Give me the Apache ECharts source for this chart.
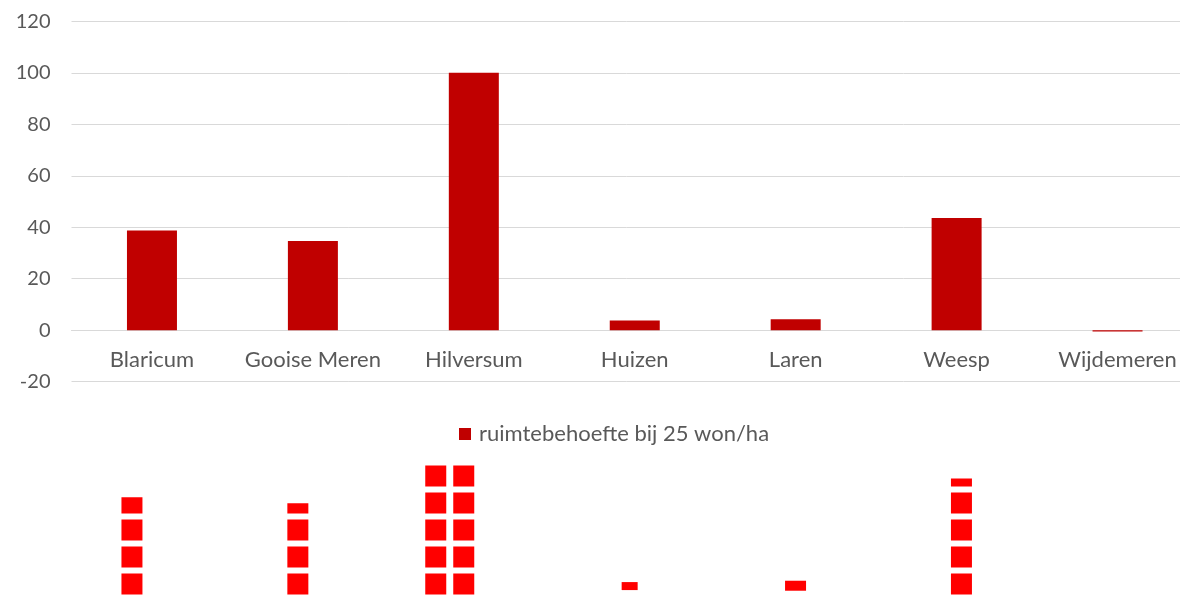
<!DOCTYPE html>
<html><head><meta charset="utf-8">
<script src="https://cdn.jsdelivr.net/npm/echarts@6/dist/echarts.min.js"></script>
<style>html,body{margin:0;padding:0;background:#fff}#c{width:1180px;height:595px}</style>
</head><body><div id="c"></div>
<script>
// ---- data ----
const categories = ['Blaricum', 'Gooise Meren', 'Hilversum', 'Huizen', 'Laren', 'Weesp', 'Wijdemeren'];
const seriesName = 'ruimtebehoefte bij 25 won/ha';
const ruimtebehoefte = [38.7, 34.7, 100, 3.8, 4.3, 43.6, -0.5];
const yTickMin = -20, yTickMax = 120, yTickStep = 20;
// pictogram below the chart, in blocks (one block = one stacked square)
const pictogramBlocks = [5.6, 5.38, 6.8, 2.46, 2.51, 6.3, 0];
const pictogramSecondColumn = [0, 0, 6.8, 0, 0, 0, 0];

// ---- styles ----
const FONT = 'Lato';
const TXT = '#595959';
const GRID_C = '#d9d9d9';
const BAR_C = '#c00000';
const PICTO_C = '#ff0000';
const smallSymbolSizes = { 3: [16, 8], 4: [21, 10] };

const orNone = v => (v ? v : '-');
const mainBlocks = pictogramBlocks.map((v, i) => (smallSymbolSizes[i] ? '-' : orNone(v)));

const smallSeries = Object.keys(smallSymbolSizes).map(k => {
  const idx = +k;
  return {
    type: 'pictorialBar', xAxisIndex: 1, yAxisIndex: 1,
    symbol: 'rect', symbolRepeat: false, symbolPosition: 'end',
    symbolSize: smallSymbolSizes[k],
    itemStyle: { color: PICTO_C },
    data: pictogramBlocks.map((v, i) => (i === idx ? v : '-')),
    silent: true
  };
});

const TOP = 21.3, HEIGHT = 360.4;
const zeroOffset = -HEIGHT * (0 - yTickMin) / (yTickMax - yTickMin);

const chart = echarts.init(document.getElementById('c'), null, { renderer: 'canvas' });
chart.setOption({
  animation: false,
  backgroundColor: '#fff',
  textStyle: { fontFamily: FONT },
  legend: {
    data: [seriesName], left: 459, top: 423, padding: 0,
    itemWidth: 12, itemHeight: 12, icon: 'rect',
    textStyle: { color: TXT, fontSize: 22, fontFamily: FONT, padding: [0, 0, 0, 3] }
  },
  grid: [
    { left: 71.5, top: TOP, width: 1126.5, height: HEIGHT, containLabel: false, outerBoundsMode: 'none' },
    { left: 49, top: 438.5, width: 1161.3, height: 210, containLabel: false, outerBoundsMode: 'none' }
  ],
  xAxis: [
    {
      gridIndex: 0, type: 'category', data: categories, position: 'bottom',
      offset: zeroOffset,
      axisLine: { show: true, onZero: false, lineStyle: { color: GRID_C, width: 1 } },
      axisTick: { show: false },
      axisLabel: { color: TXT, fontSize: 22, fontFamily: FONT, margin: 19, interval: 0 },
      splitLine: { show: false }
    },
    {
      gridIndex: 1, type: 'category', data: categories, show: false
    }
  ],
  yAxis: [
    {
      gridIndex: 0, type: 'value', min: yTickMin, max: yTickMax, interval: yTickStep,
      axisLine: { show: false }, axisTick: { show: false },
      axisLabel: { color: TXT, fontSize: 20, fontFamily: FONT, margin: 21 },
      splitLine: { show: true, lineStyle: { color: GRID_C, width: 1 } }
    },
    {
      gridIndex: 1, type: 'value', min: 0, max: 210 / 27, show: false,
      splitLine: { show: false }
    }
  ],
  series: [
    {
      name: seriesName, type: 'bar', xAxisIndex: 0, yAxisIndex: 0,
      barWidth: 50, itemStyle: { color: BAR_C },
      data: ruimtebehoefte
    },
    {
      type: 'pictorialBar', xAxisIndex: 1, yAxisIndex: 1,
      symbol: 'rect', symbolRepeat: true, symbolClip: true,
      symbolSize: [21, 21], symbolMargin: 3,
      itemStyle: { color: PICTO_C },
      data: mainBlocks, silent: true
    },
    {
      type: 'pictorialBar', xAxisIndex: 1, yAxisIndex: 1,
      symbol: 'rect', symbolRepeat: true, symbolClip: true,
      symbolSize: [21, 21], symbolMargin: 3, symbolOffset: [-28, 0],
      itemStyle: { color: PICTO_C },
      data: pictogramSecondColumn.map(orNone), silent: true
    }
  ].concat(smallSeries)
});
</script>
</body></html>
